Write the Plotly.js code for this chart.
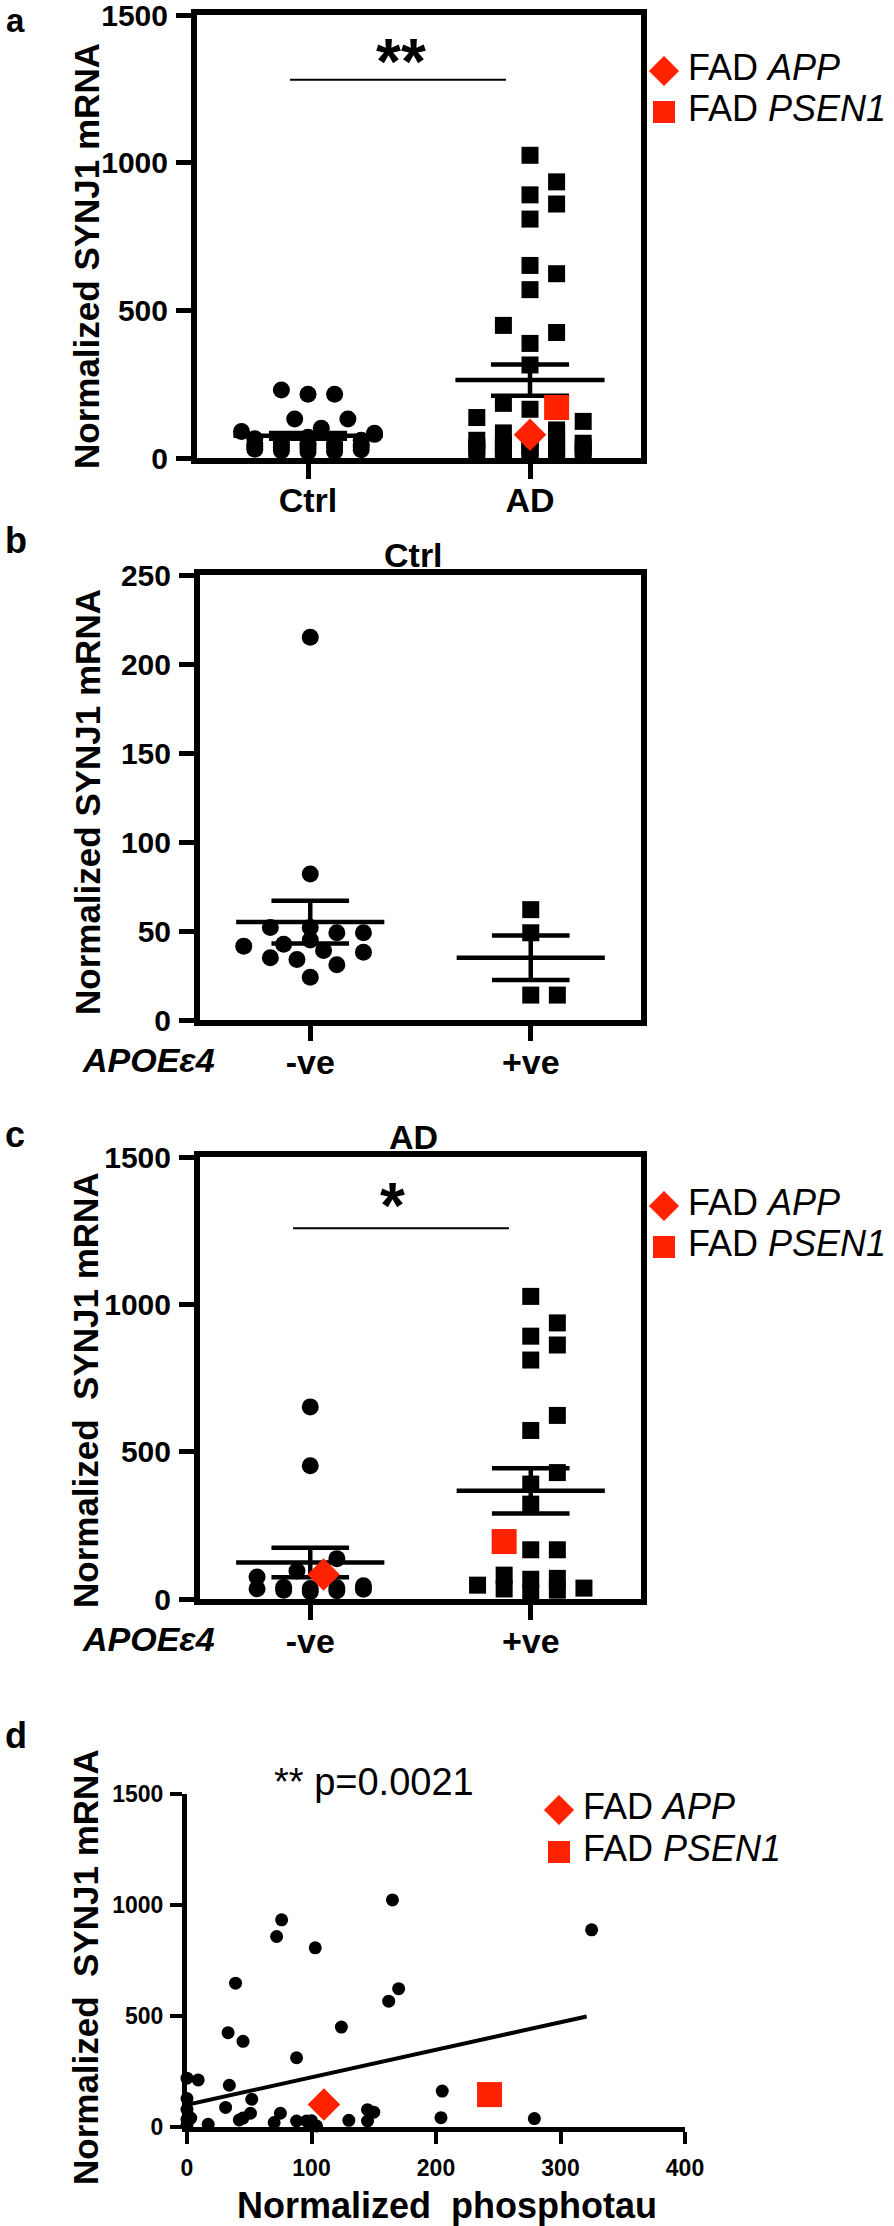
<!DOCTYPE html>
<html>
<head>
<meta charset="utf-8">
<script src="https://cdn.plot.ly/plotly-3.0.1.min.js"></script>
<style>html,body{margin:0;padding:0;background:#fff;}#chart{width:894px;height:2226px;}</style>
</head>
<body>
<div id="chart"></div>
<script>
// ---------------- DATA ----------------
// Panel a: all samples
const catA = ['Ctrl', 'AD'];
const ctrlA = [230, 216, 216, 132, 132, 101, 90, 84, 80, 70, 65, 60, 55, 52, 50, 48, 46, 45, 43, 42, 40, 38, 36, 35, 33, 30, 28, 25, 22, 20];
const adA = [1025, 935, 891, 860, 809, 652, 624, 570, 449, 425, 388, 315, 185, 165, 137, 124, 95, 85, 80, 67, 60, 50, 45, 42, 40, 38, 35, 33, 30, 28, 25, 22, 20, 18, 15];
const appA = [79];
const psen1A = [171];
const meanA = [75, 264];
const semA = [10, 53];
const yTicksA = [0, 500, 1000, 1500];

// Panel b: controls by APOE e4
const catB = ['-ve', '+ve'];
const ctrlNeg = [215, 82, 52, 52, 49, 49, 45, 42.5, 41.5, 39, 38, 35, 34, 31, 24];
const ctrlPos = [62, 49, 14, 14];
const meanB = [55, 35];
const semB = [12, 12.5];
const yTicksB = [0, 50, 100, 150, 200, 250];

// Panel c: AD by APOE e4
const catC = ['-ve', '+ve'];
const adNeg = [652, 452, 137, 95, 75, 45, 40, 38, 36, 35, 33, 30, 28, 25];
const appC = [83];
const adPos = [1027, 937, 892, 862, 811, 623, 572, 429, 390, 322, 167, 167, 81, 70, 67, 47, 37, 34, 30, 20];
const psen1C = [195];
const meanC = [124, 367];
const semC = [50, 77];
const yTicksC = [0, 500, 1000, 1500];

// Panel d: SYNJ1 mRNA vs phosphotau
const tauX = [165, 325, 76, 72, 103, 39, 170, 162, 33, 124, 45, 88, 0, 9, 34, 0, 52, 31, 0, 205, 51, 75, 145, 150, 204, 279, 130, 145, 42, 70, 88, 96, 104, 17, 3, 0, 0, 45, 100];
const synY = [1023, 888, 933, 858, 807, 648, 623, 567, 425, 450, 386, 312, 220, 212, 188, 128, 125, 88, 80, 162, 62, 62, 78, 67, 42, 38, 30, 27, 32, 20, 27, 27, 5, 12, 40, 35, 10, 40, 28];
const appD = {x: [110], y: [101]};
const psen1D = {x: [243], y: [146]};
const fitX = [0, 321];
const fitY = [100, 498];
const xTicksD = [0, 100, 200, 300, 400];
const yTicksD = [0, 500, 1000, 1500];

const legendText = ['FAD <i>APP</i>', 'FAD <i>PSEN1</i>'];
const legendSymbols = ['diamond', 'square'];

// ---------------- STYLE / LAYOUT ----------------
const W = 894, H = 2226;
const FONT = 'Liberation Sans, Arial, Helvetica, sans-serif';
const RED = '#FF2200';
const px = v => v / W;
const py = v => 1 - v / H;

const P = {
  a: {x0: 197, x1: 641, yTop: 15, yBot: 458, ymax: 1500},
  b: {x0: 200, x1: 641, yTop: 575, yBot: 1020, ymax: 250},
  c: {x0: 200, x1: 641, yTop: 1157, yBot: 1599, ymax: 1500},
  d: {x0: 187, x1: 685, yTop: 1794, yBot: 2127, ymax: 1500, xmax: 400}
};

// deterministic beeswarm: returns pixel offsets
function swarm(vals, yScale, size, step, maxK, shape) {
  const idx = vals.map((v, i) => i).sort((a, b) => vals[a] - vals[b]);
  const placed = [];
  const off = new Array(vals.length).fill(0);
  const minD = size * 1.1;
  for (const i of idx) {
    const y = vals[i] * yScale;
    let best = 0, bestCnt = Infinity;
    for (let j = 0; j <= 2 * maxK; j++) {
      const k = j === 0 ? 0 : (j % 2 ? (j + 1) / 2 : -j / 2);
      const x = k * step;
      let cnt = 0;
      for (const p of placed) {
        const dx = Math.abs(p.x - x), dy = Math.abs(p.y - y);
        const hit = shape === 'square' ? (dx < minD && dy < minD) : (Math.hypot(dx, dy) < minD);
        if (hit) cnt++;
      }
      if (cnt === 0) { best = x; bestCnt = 0; break; }
      if (cnt < bestCnt) { bestCnt = cnt; best = x; }
    }
    placed.push({x: best, y});
    off[i] = best;
  }
  return off;
}

const traces = [];
function groupTraces(p, xa, ya, center, groups, shape) {
  const yScale = (p.yBot - p.yTop) / p.ymax;
  const xScale = (p.x1 - p.x0) / 2;
  const all = [];
  groups.forEach((g, gi) => g.vals.forEach(v => all.push({v, gi})));
  const offs = swarm(all.map(o => o.v), yScale, 17, 13.3, 5, shape);
  groups.forEach((g, gi) => {
    const xs = [], ys = [];
    all.forEach((o, i) => { if (o.gi === gi) { xs.push(center + offs[i] / xScale); ys.push(o.v); } });
    g.trace = {x: xs, y: ys, xaxis: xa, yaxis: ya, type: 'scatter', mode: 'markers', cliponaxis: false,
      marker: {symbol: g.symbol, size: g.size, color: g.color, opacity: 1, line: {width: 0}}, hoverinfo: 'skip'};
  });
  return groups;
}

function meanTrace(means, sems, xa, ya) {
  const MHW = 0.336, SHW = 0.176;
  const xs = [], ys = [];
  means.forEach((m, c) => {
    const s = sems[c];
    xs.push(c - MHW, c + MHW, null, c - SHW, c + SHW, null, c - SHW, c + SHW, null, c, c, null);
    ys.push(m, m, null, m + s, m + s, null, m - s, m - s, null, m - s, m + s, null);
  });
  return {x: xs, y: ys, xaxis: xa, yaxis: ya, type: 'scatter', mode: 'lines', cliponaxis: false,
    line: {color: 'black', width: 4.5}, hoverinfo: 'skip'};
}

// Panel a
const gA0 = groupTraces(P.a, 'x', 'y', 0, [{vals: ctrlA, color: 'black', symbol: 'circle', size: 17}], 'circle');
const gA1 = groupTraces(P.a, 'x', 'y', 1, [
  {vals: adA, color: 'black', symbol: 'square', size: 17},
  {vals: psen1A, color: RED, symbol: 'square', size: 25},
  {vals: appA, color: RED, symbol: 'diamond', size: 25}], 'square');
// Panel b
const gB0 = groupTraces(P.b, 'x2', 'y2', 0, [{vals: ctrlNeg, color: 'black', symbol: 'circle', size: 17}], 'circle');
const gB1 = groupTraces(P.b, 'x2', 'y2', 1, [{vals: ctrlPos, color: 'black', symbol: 'square', size: 17}], 'square');
// Panel c
const gC0 = groupTraces(P.c, 'x3', 'y3', 0, [
  {vals: adNeg, color: 'black', symbol: 'circle', size: 17},
  {vals: appC, color: RED, symbol: 'diamond', size: 25}], 'circle');
const gC1 = groupTraces(P.c, 'x3', 'y3', 1, [
  {vals: adPos, color: 'black', symbol: 'square', size: 17},
  {vals: psen1C, color: RED, symbol: 'square', size: 25}], 'square');

[gA0, gA1].forEach(g => traces.push(g[0].trace));
traces.push(meanTrace(meanA, semA, 'x', 'y'));
gA1.slice(1).forEach(g => traces.push(g.trace));

[gB0, gB1].forEach(g => traces.push(g[0].trace));
traces.push(meanTrace(meanB, semB, 'x2', 'y2'));

[gC0, gC1].forEach(g => traces.push(g[0].trace));
traces.push(meanTrace(meanC, semC, 'x3', 'y3'));
gC0.slice(1).forEach(g => traces.push(g.trace));
gC1.slice(1).forEach(g => traces.push(g.trace));

// Panel d
traces.push({x: tauX, y: synY, xaxis: 'x4', yaxis: 'y4', type: 'scatter', mode: 'markers', cliponaxis: false,
  marker: {symbol: 'circle', size: 13, color: 'black', opacity: 1}, hoverinfo: 'skip'});
traces.push({x: fitX, y: fitY, xaxis: 'x4', yaxis: 'y4', type: 'scatter', mode: 'lines', cliponaxis: false,
  line: {color: 'black', width: 4}, hoverinfo: 'skip'});
traces.push({x: appD.x, y: appD.y, xaxis: 'x4', yaxis: 'y4', type: 'scatter', mode: 'markers', cliponaxis: false,
  marker: {symbol: 'diamond', size: 25, color: RED, opacity: 1}, hoverinfo: 'skip'});
traces.push({x: psen1D.x, y: psen1D.y, xaxis: 'x4', yaxis: 'y4', type: 'scatter', mode: 'markers', cliponaxis: false,
  marker: {symbol: 'square', size: 25, color: RED, opacity: 1}, hoverinfo: 'skip'});

// Legends (mini axes)
const legends = [
  {xa: 'x5', ya: 'y5', mx: 664, tx: 688, r0: 71, r1: 112},
  {xa: 'x6', ya: 'y6', mx: 664, tx: 688, r0: 1206, r1: 1247},
  {xa: 'x7', ya: 'y7', mx: 559, tx: 583, r0: 1810, r1: 1852}
];
legends.forEach(L => {
  traces.push({x: [0, 0], y: [0, 1], xaxis: L.xa, yaxis: L.ya, type: 'scatter', mode: 'markers', cliponaxis: false,
    marker: {symbol: legendSymbols, size: [24, 23], color: RED, opacity: 1}, hoverinfo: 'skip'});
  traces.push({x: [1, 1], y: [0, 1], xaxis: L.xa, yaxis: L.ya, type: 'scatter', mode: 'text', cliponaxis: false,
    text: legendText, textposition: 'middle right', textfont: {family: FONT, size: 36, color: 'black'}, hoverinfo: 'skip'});
});

function boxX(p, ticktext, anchor) {
  return {domain: [px(p.x0), px(p.x1)], range: [-0.5, 1.5], anchor, showline: true, linewidth: 6, linecolor: 'black',
    mirror: true, ticks: 'outside', ticklen: 15, tickwidth: 5, tickcolor: 'black', tickvals: [0, 1], ticktext,
    tickfont: {family: FONT, size: 34, weight: 'bold', color: 'black'}, ticklabelstandoff: -8, ticklabeloverflow: 'allow',
    showgrid: false, zeroline: false, fixedrange: true};
}
function boxY(p, tickvals, anchor) {
  return {domain: [py(p.yBot), py(p.yTop)], range: [0, p.ymax], anchor, showline: true, linewidth: 6, linecolor: 'black',
    mirror: true, ticks: 'outside', ticklen: 15, tickwidth: 5, tickcolor: 'black', tickvals, ticktext: tickvals.map(String),
    tickfont: {family: FONT, size: 30, weight: 'bold', color: 'black'}, ticklabelstandoff: 2, ticklabeloverflow: 'allow',
    showgrid: false, zeroline: false, fixedrange: true};
}
function hidden(domain, range, anchor) {
  return {domain, range, anchor, visible: false, fixedrange: true, showgrid: false, zeroline: false};
}

const layout = {
  width: W, height: H, margin: {l: 0, r: 0, t: 0, b: 0, pad: 0}, showlegend: false,
  paper_bgcolor: 'white', plot_bgcolor: 'rgba(0,0,0,0)',
  font: {family: FONT, color: 'black'},
  xaxis: boxX(P.a, catA, 'y'), yaxis: boxY(P.a, yTicksA, 'x'),
  xaxis2: boxX(P.b, catB, 'y2'), yaxis2: boxY(P.b, yTicksB, 'x2'),
  xaxis3: boxX(P.c, catC, 'y3'), yaxis3: boxY(P.c, yTicksC, 'x3'),
  xaxis4: {domain: [px(P.d.x0), px(P.d.x1)], range: [0, P.d.xmax], anchor: 'y4', showline: true, linewidth: 5, linecolor: 'black',
    ticks: 'outside', ticklen: 12, tickwidth: 4, tickcolor: 'black', tickvals: xTicksD, ticktext: xTicksD.map(String),
    tickfont: {family: FONT, size: 23, weight: 'bold', color: 'black'}, ticklabelstandoff: 4, ticklabeloverflow: 'allow',
    showgrid: false, zeroline: false, fixedrange: true},
  yaxis4: {domain: [py(P.d.yBot), py(P.d.yTop)], range: [0, P.d.ymax], anchor: 'x4', showline: true, linewidth: 5, linecolor: 'black',
    ticks: 'outside', ticklen: 12, tickwidth: 4, tickcolor: 'black', tickvals: yTicksD, ticktext: yTicksD.map(String),
    tickfont: {family: FONT, size: 23, weight: 'bold', color: 'black'}, ticklabelstandoff: 2, ticklabeloverflow: 'allow',
    showgrid: false, zeroline: false, fixedrange: true},
  shapes: [
    {type: 'line', xref: 'x', yref: 'y', x0: -0.081, x1: 0.892, y0: 1281, y1: 1281, line: {color: 'black', width: 2}},
    {type: 'line', xref: 'x3', yref: 'y3', x0: -0.078, x1: 0.901, y0: 1258, y1: 1258, line: {color: 'black', width: 2}}
  ],
  annotations: []
};
legends.forEach((L, i) => {
  const n = 5 + i;
  layout['xaxis' + n] = hidden([px(L.mx), px(L.tx)], [0, 1], 'y' + n);
  layout['yaxis' + n] = hidden([py(L.r1), py(L.r0)], [1, 0], 'x' + n);
});

function ann(text, x, y, size, opts) {
  layout.annotations.push(Object.assign({text, x: px(x), y: py(y), xref: 'paper', yref: 'paper', showarrow: false,
    xanchor: 'center', yanchor: 'middle', font: {family: FONT, size, color: 'black'}}, opts || {}));
}
const bold = s => ({font: {family: FONT, size: s, color: 'black', weight: 'bold'}});
// panel letters
ann('a', 15, 0, 33, Object.assign(bold(33), {yanchor: 'top'}));
ann('b', 16, 540, 36, bold(36));
ann('c', 15, 1134, 36, bold(36));
ann('d', 16, 1735, 36, bold(36));
// y titles
ann('Normalized SYNJ1 mRNA', 86, 256, 35, Object.assign(bold(35), {textangle: -90}));
ann('Normalized SYNJ1 mRNA', 88, 802, 35, Object.assign(bold(35), {textangle: -90}));
ann('Normalized\u00a0\u00a0SYNJ1 mRNA', 85, 1390, 35, Object.assign(bold(35), {textangle: -90}));
ann('Normalized\u00a0\u00a0SYNJ1 mRNA', 85, 1967, 35, Object.assign(bold(35), {textangle: -90}));
// panel titles
ann('Ctrl', 413, 555, 34, bold(34));
ann('AD', 413, 1137, 34, bold(34));
// APOE labels
const apoe = {font: {family: FONT, size: 34, color: 'black', weight: 'bold', style: 'italic'}};
ann('APOEε4', 148, 1060, 34, apoe);
ann('APOEε4', 148, 1639, 34, apoe);
// significance
ann('**', 401, 62, 64, bold(64));
ann('*', 392, 1206, 64, bold(64));
ann('** p=0.0021', 374, 1782, 38);
// x title d
ann('Normalized\u00a0\u00a0phosphotau', 447, 2205, 36, bold(36));

Plotly.newPlot('chart', traces, layout, {displayModeBar: false, staticPlot: true});
</script>
</body>
</html>
